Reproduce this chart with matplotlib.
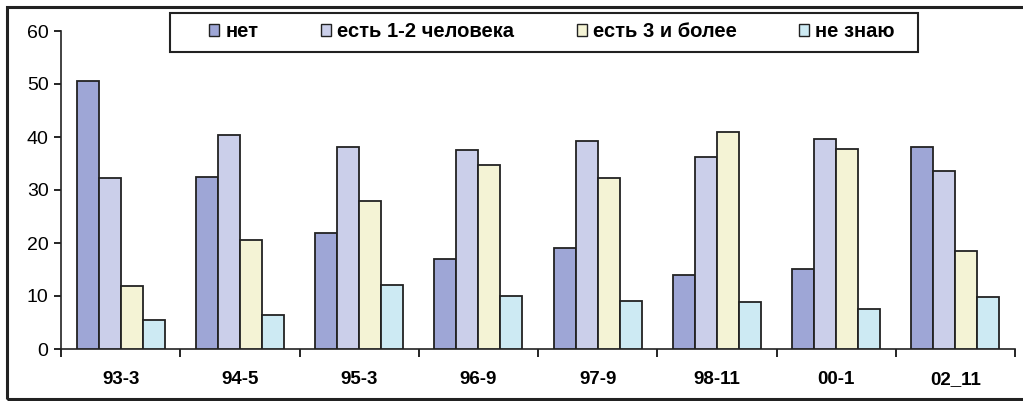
import numpy as np
from matplotlib import pyplot as plt
from matplotlib.patches import Rectangle

plt.rcParams['font.family'] = ['Liberation Sans', 'DejaVu Sans']

waves = ['93-3', '94-5', '95-3', '96-9', '97-9', '98-11', '00-1', '02_11']
series_names = ['нет', 'есть 1-2 человека', 'есть 3 и более', 'не знаю']
net = [50.6, 32.4, 21.8, 17.0, 19.0, 14.0, 15.1, 38.2]
est_1_2 = [32.2, 40.3, 38.2, 37.5, 39.2, 36.2, 39.6, 33.5]
est_3 = [11.9, 20.5, 28.0, 34.8, 32.3, 41.0, 37.8, 18.5]
ne_znayu = [5.5, 6.4, 12.0, 10.0, 9.0, 8.9, 7.5, 9.9]
colors = ['#9ea6d6', '#cbcfea', '#f4f3d5', '#cdeaf3']

fig = plt.figure(figsize=(10.23, 4.01), dpi=100)
ax = fig.add_axes([61 / 1023, 52 / 401, 954 / 1023, 318 / 401])

x = np.arange(len(waves))
w = 0.185
handles = []
for i, (vals, name) in enumerate(zip([net, est_1_2, est_3, ne_znayu], series_names)):
    b = ax.bar(x + (i - 1.5) * w, vals, w, color=colors[i], edgecolor='#222222',
               linewidth=1.3, label=name, zorder=3)
    handles.append(b)

ax.set_xlim(-0.5, len(waves) - 0.5)
ax.set_ylim(0, 60)
ax.set_yticks(range(0, 61, 10))
ax.tick_params(axis='y', labelsize=14, length=5, width=1.2, direction='out', pad=4)
ax.set_xticks(x)
ax.set_xticklabels(waves, fontsize=13.5, fontweight='bold')
ax.tick_params(axis='x', which='major', length=0, pad=16)
ax.set_xticks(np.arange(-0.5, len(waves)), minor=True)
ax.tick_params(axis='x', which='minor', length=6, width=1.2, direction='out')
for s in ['top', 'right']:
    ax.spines[s].set_visible(False)
for s in ['left', 'bottom']:
    ax.spines[s].set_linewidth(1.2)
    ax.spines[s].set_color('#222222')

# legend frame drawn separately, entries spread inside it
fig.patches.append(Rectangle((170 / 1023, (401 - 52) / 401), 748 / 1023, 39 / 401,
                             transform=fig.transFigure, fill=True, facecolor='white',
                             edgecolor='#222222', linewidth=1.5, zorder=5))
leg = fig.legend(handles=handles, loc='lower left', ncol=4, mode='expand',
                 bbox_to_anchor=(198 / 1023, (401 - 52) / 401, 708 / 1023, 39 / 401),
                 prop={'size': 14.5, 'weight': 'bold'}, frameon=False,
                 handlelength=0.5, handleheight=0.5,
                 handletextpad=0.3, borderaxespad=0, borderpad=0.55)
leg.set_zorder(6)
for p in leg.get_patches():
    p.set_linewidth(1.0)

# outer frame around the chart area
fig.patches.append(Rectangle((7 / 1023, 2 / 401), 1.1, 392 / 401, transform=fig.transFigure,
                             fill=False, edgecolor='#222222', linewidth=2.2))

fig.savefig('out.png', dpi=100)
